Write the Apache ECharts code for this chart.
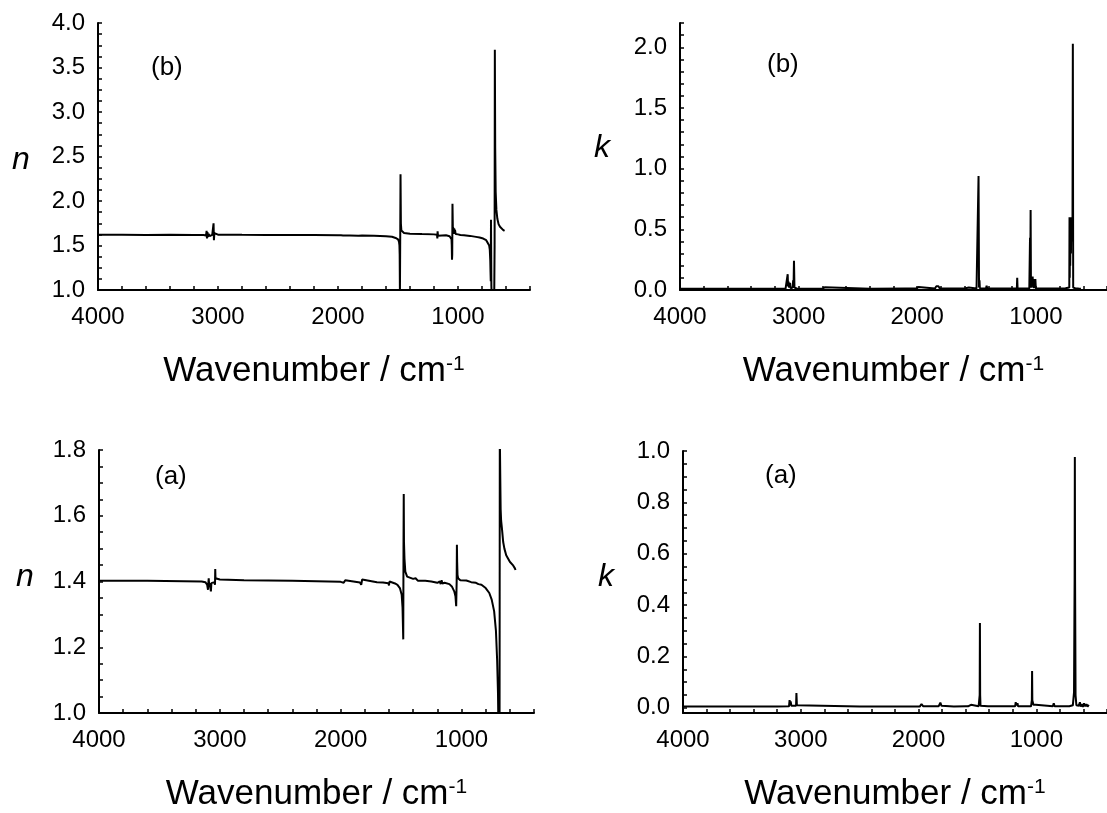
<!DOCTYPE html>
<html>
<head>
<meta charset="utf-8">
<script src="https://cdn.jsdelivr.net/npm/echarts@6/dist/echarts.min.js"></script>
<style>
html,body{margin:0;padding:0;background:#fff;}
#chart{width:1107px;height:813px;}
</style>
</head>
<body>
<div id="chart"></div>
<script>
// ---------- data (wavenumber in cm-1, value) ----------
// Panel (b), refractive index n
const nB_wn  = [4000,3800,3600,3400,3200,3120,3100,3095,3092,3088,3084,3078,3070,3062,3055,3048,3040,3037,3034,3030,3020,3000,2800,2600,2400,2200,2000,1975,1965,1958,1900,1830,1822,1815,1800,1700,1600,1550,1520,1500,1492,1488,1486,1484,1482,1481,1479,1476,1472,1465,1450,1400,1300,1200,1175,1172,1170,1167,1160,1100,1070,1058,1054,1052,1050,1048,1046,1043,1040,1037,1034,1031,1028,1025,1020,1010,1000,980,950,900,850,820,790,765,750,740,735,731,729,727,725,722,718,705,698,695,693,690,686,680,672,662,650,638,625,612];
const nB_val = [1.620,1.620,1.619,1.620,1.619,1.618,1.612,1.665,1.580,1.650,1.595,1.630,1.605,1.625,1.610,1.620,1.600,1.750,1.560,1.640,1.625,1.622,1.620,1.619,1.618,1.617,1.615,1.614,1.630,1.612,1.612,1.610,1.630,1.622,1.612,1.610,1.605,1.598,1.585,1.570,1.545,1.500,1.400,0.950,0.950,1.700,2.300,1.750,1.670,1.650,1.640,1.632,1.628,1.625,1.620,1.580,1.660,1.610,1.622,1.615,1.605,1.595,1.570,1.500,1.340,1.400,1.970,1.700,1.650,1.700,1.630,1.690,1.640,1.675,1.630,1.640,1.625,1.618,1.615,1.608,1.597,1.590,1.578,1.560,1.540,1.500,1.450,1.330,1.200,1.100,1.790,1.050,0.900,0.900,0.950,1.500,3.700,2.600,2.100,1.900,1.800,1.740,1.710,1.690,1.675,1.665];

// Panel (b), absorption index k
const kB_wn  = [4000,3500,3200,3110,3095,3092,3089,3085,3080,3072,3068,3050,3046,3043,3039,3035,3020,3015,2950,2800,2785,2780,2775,2400,2100,2010,2000,1990,1975,1850,1840,1820,1810,1600,1565,1550,1500,1486,1483,1481,1479,1475,1472,1420,1415,1410,1320,1315,1300,1250,1160,1157,1154,1100,1055,1051,1049,1047,1044,1041,1032,1027,1022,1018,1015,1010,1007,1004,1000,900,800,750,718,716,714,712,710,707,704,701,698,694,691,688,685,680,668,662,655,640,620];
const kB_val = [0.010,0.010,0.010,0.011,0.020,0.130,0.030,0.070,0.020,0.060,0.015,0.020,0.080,0.020,0.240,0.020,0.030,0.012,0.010,0.010,0.012,0.022,0.010,0.010,0.012,0.012,0.025,0.024,0.012,0.012,0.030,0.030,0.012,0.012,0.020,0.015,0.012,0.015,0.940,0.930,0.020,0.080,0.015,0.012,0.035,0.012,0.012,0.025,0.012,0.012,0.015,0.100,0.015,0.012,0.012,0.015,0.430,0.050,0.660,0.020,0.015,0.110,0.020,0.050,0.015,0.090,0.020,0.090,0.015,0.012,0.012,0.015,0.020,0.600,0.100,0.580,0.200,0.550,0.300,0.600,0.400,0.600,0.500,2.030,0.020,0.012,0.015,0.030,0.020,0.012,0.010];

// Panel (a), refractive index n
const nA_wn  = [4000,3600,3300,3150,3120,3105,3098,3095,3092,3088,3084,3078,3074,3070,3060,3045,3040,3038,3036,3030,3020,3000,2800,2600,2400,2200,2000,1975,1968,1962,1955,1840,1830,1822,1810,1700,1650,1605,1600,1596,1590,1550,1530,1510,1495,1488,1482,1480,1478,1476,1472,1465,1450,1400,1380,1360,1300,1250,1200,1185,1180,1172,1165,1158,1140,1100,1080,1060,1050,1044,1040,1038,1036,1033,1028,1020,1015,1010,1000,960,920,880,860,850,845,835,800,770,750,730,715,705,698,694,688,685,683,680,678,676,672,665,655,645,630,615,600,585,575,565,558,553];
const nA_val = [1.402,1.402,1.401,1.400,1.398,1.390,1.375,1.395,1.410,1.388,1.395,1.380,1.370,1.395,1.400,1.398,1.390,1.438,1.410,1.410,1.407,1.406,1.404,1.403,1.402,1.401,1.399,1.396,1.390,1.404,1.400,1.397,1.390,1.406,1.400,1.398,1.397,1.395,1.388,1.400,1.396,1.394,1.390,1.380,1.360,1.320,1.224,1.500,1.666,1.520,1.470,1.430,1.415,1.408,1.410,1.402,1.402,1.400,1.396,1.390,1.400,1.392,1.404,1.394,1.396,1.392,1.385,1.370,1.355,1.325,1.400,1.512,1.460,1.420,1.410,1.405,1.412,1.404,1.405,1.403,1.398,1.396,1.392,1.388,1.396,1.390,1.380,1.365,1.345,1.310,1.250,1.160,1.060,0.950,0.900,0.950,1.850,1.850,1.680,1.620,1.585,1.560,1.520,1.500,1.480,1.470,1.460,1.455,1.450,1.445,1.440,1.435];

// Panel (a), absorption index k
const kA_wn  = [4000,3200,3100,3095,3090,3086,3080,3075,3070,3040,3037,3033,3020,2500,1990,1975,1960,1830,1815,1805,1700,1600,1590,1580,1555,1545,1490,1481,1479,1477,1474,1410,1405,1400,1180,1175,1170,1160,1155,1045,1038,1036,1034,1025,1015,1005,990,860,852,845,720,690,680,675,673,671,667,660,640,630,625,615,605,595,585,575,565,555];
const kA_val = [0.005,0.005,0.006,0.030,0.010,0.025,0.008,0.015,0.006,0.008,0.058,0.010,0.006,0.005,0.005,0.015,0.006,0.006,0.020,0.008,0.005,0.006,0.012,0.006,0.012,0.006,0.006,0.050,0.330,0.050,0.008,0.006,0.012,0.006,0.006,0.022,0.010,0.018,0.006,0.006,0.030,0.143,0.030,0.012,0.008,0.012,0.006,0.006,0.018,0.006,0.006,0.010,0.060,0.500,0.977,0.500,0.050,0.010,0.008,0.022,0.005,0.015,0.004,0.018,0.006,0.014,0.005,0.012];

// ---------- tick labels ----------
const xLabels   = [1000,2000,3000,4000];
const nBLabels  = [1.0,1.5,2.0,2.5,3.0,3.5,4.0];
const kBLabels  = [0.0,0.5,1.0,1.5,2.0];
const nALabels  = [1.0,1.2,1.4,1.6,1.8];
const kALabels  = [0.0,0.2,0.4,0.6,0.8,1.0];

function steps(a, b, s){ const out=[]; const n=Math.round((b-a)/s); for(let i=0;i<=n;i++) out.push(+(a+i*s).toFixed(4)); return out; }
function zip(a,b){ return a.map((w,i)=>[w,b[i]]); }

const FONT = 'Liberation Sans, Arial, sans-serif';
const BLACK = '#000';

function xAxisDef(gi){
  return {
    type:'value', gridIndex:gi, min:400, max:4000, inverse:true,
    axisLine:{onZero:false, lineStyle:{color:BLACK, width:2}},
    axisTick:{inside:true, length:4, customValues:steps(400,4000,200), lineStyle:{color:BLACK, width:1.5}},
    axisLabel:{customValues:xLabels, color:BLACK, fontSize:24, fontFamily:FONT, margin:15, formatter:v=>String(Math.round(v))},
    splitLine:{show:false},
    name:'{t|Wavenumber / cm}{s|-1}', nameLocation:'middle', nameGap:64,
    nameTextStyle:{rich:{t:{fontSize:35, fontFamily:FONT, color:BLACK}, s:{fontSize:21, fontFamily:FONT, color:BLACK, verticalAlign:'top'}}}
  };
}
function yAxisDef(gi, min, max, ticks, labels){
  return {
    type:'value', gridIndex:gi, min:min, max:max,
    axisLine:{show:true, lineStyle:{color:BLACK, width:2}},
    axisTick:{show:true, inside:true, length:4, customValues:ticks, lineStyle:{color:BLACK, width:1.5}},
    axisLabel:{customValues:labels, color:BLACK, fontSize:24, fontFamily:FONT, margin:13, formatter:v=>v.toFixed(1)},
    splitLine:{show:false}
  };
}
function seriesDef(i, data){
  return {type:'line', xAxisIndex:i, yAxisIndex:i, data:data, showSymbol:false, symbol:'none', clip:true,
    lineStyle:{color:BLACK, width:2}, itemStyle:{color:BLACK}, animation:false};
}

const chart = echarts.init(document.getElementById('chart'), null, {renderer:'canvas'});
chart.setOption({
  backgroundColor:'#fff',
  animation:false,
  grid:[
    {left:98, top:23, width:432, height:267},
    {left:680, top:23, width:432, height:267},
    {left:99, top:450, width:435, height:268},
    {left:683, top:451, width:432, height:266}
  ],
  xAxis:[xAxisDef(0), xAxisDef(1), xAxisDef(2), xAxisDef(3)],
  yAxis:[
    yAxisDef(0, 1.0, 4.0, steps(1.0,4.0,0.125), nBLabels),
    yAxisDef(1, 0.0, 2.2, steps(0.0,2.2,0.1), kBLabels),
    yAxisDef(2, 1.0, 1.8, steps(1.0,1.8,0.05), nALabels),
    yAxisDef(3, -0.02, 1.0, steps(0.0,1.0,0.05), kALabels)
  ],
  series:[
    seriesDef(0, zip(nB_wn, nB_val)),
    seriesDef(1, zip(kB_wn, kB_val)),
    seriesDef(2, zip(nA_wn, nA_val)),
    seriesDef(3, zip(kA_wn, kA_val))
  ],
  graphic:[
    {type:'text', left:12, top:144, style:{text:'n', font:'italic 32px '+FONT, fill:BLACK}},
    {type:'text', left:594, top:132, style:{text:'k', font:'italic 32px '+FONT, fill:BLACK}},
    {type:'text', left:16, top:561, style:{text:'n', font:'italic 32px '+FONT, fill:BLACK}},
    {type:'text', left:598, top:561, style:{text:'k', font:'italic 32px '+FONT, fill:BLACK}},
    {type:'text', left:151, top:55, style:{text:'(b)', font:'26px '+FONT, fill:BLACK}},
    {type:'text', left:767, top:52, style:{text:'(b)', font:'26px '+FONT, fill:BLACK}},
    {type:'text', left:155, top:464, style:{text:'(a)', font:'26px '+FONT, fill:BLACK}},
    {type:'text', left:765, top:463, style:{text:'(a)', font:'26px '+FONT, fill:BLACK}}
  ]
});
</script>
</body>
</html>
